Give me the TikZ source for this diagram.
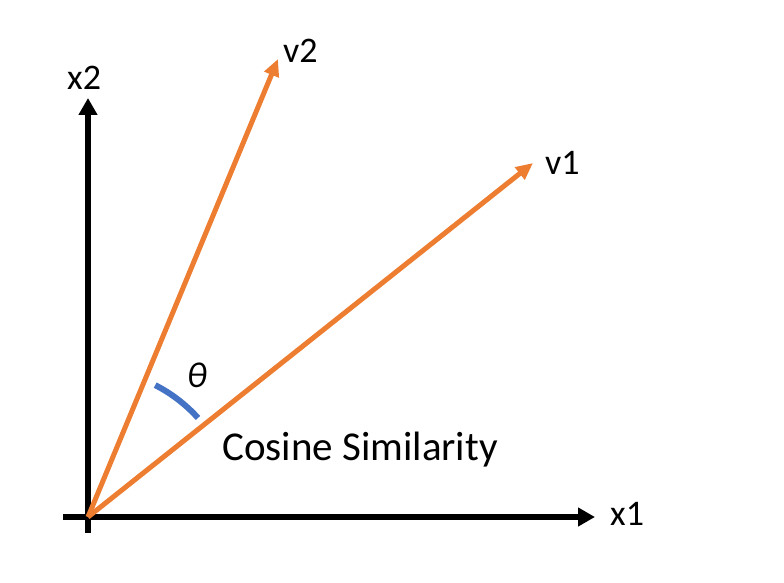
\documentclass[tikz,border=0pt]{standalone}
\usepackage{fontspec}
\setmainfont{Carlito}
\usetikzlibrary{arrows.meta,calc}
\definecolor{vorange}{RGB}{237,125,49}
\definecolor{vblue}{RGB}{68,114,196}
\begin{document}
\begin{tikzpicture}[x=1pt,y=1pt,
  axisline/.style={line width=6pt,-{Triangle[length=17pt,width=18pt]}},
  vecline/.style={vorange,line width=5pt,-{Triangle[length=17pt,width=15pt]}},
  lbl/.style={anchor=base west,inner sep=0pt,font=\fontsize{36}{42}\selectfont},
  anglearc/.style={vblue,line width=6pt}]
\useasboundingbox (0,0) rectangle (784,582);
\coordinate (O) at (88,65);
\coordinate (ybot) at (88,49);
\coordinate (ytop) at (88,484);
\coordinate (xleft) at (63,65);
\coordinate (xright) at (595,65);
\coordinate (v2tip) at (278,523);
\coordinate (v1tip) at (533,419);
\draw[axisline] (ybot) -- (ytop);
\draw[axisline] (xleft) -- (xright);
\draw[vecline] (O) -- (v2tip);
\draw[vecline] (O) -- (v1tip);
\draw[anglearc] ($(O)+(63:148)$) arc[start angle=63,end angle=42,radius=148];
\node[lbl] (x2) at (67,492) {x2};
\node[lbl] (v2) at (283,519) {v2};
\node[lbl] (v1) at (545,407) {v1};
\node[lbl] (x1) at (610,57) {x1};
\node[inner sep=0pt,font=\fontsize{36}{42}\selectfont\itshape] (theta) at (197,207) {θ};
\node[anchor=base west,inner sep=0pt,font=\fontsize{41}{48}\selectfont] (cos) at (222,122) {Cosine Similarity};
\end{tikzpicture}
\end{document}
